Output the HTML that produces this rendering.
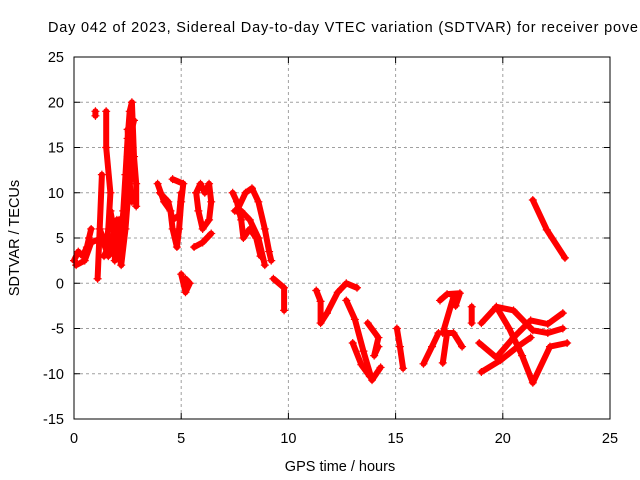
<!DOCTYPE html>
<html><head><meta charset="utf-8"><style>
html,body{margin:0;padding:0;background:#fff;}
svg{display:block;font-family:"Liberation Sans",sans-serif;}
</style></head><body>
<svg id="chart" width="640" height="480" viewBox="0 0 640 480">
<rect width="640" height="480" fill="#fff"/>
<text x="48" y="32" font-size="14.5" fill="#000" textLength="590" lengthAdjust="spacing">Day 042 of 2023, Sidereal Day-to-day VTEC variation (SDTVAR) for receiver pove</text>
<g id="grid"></g>
<g id="marks"></g>
<rect x="74" y="57" width="536" height="362" fill="none" stroke="#000" stroke-width="1"/>
<g id="ticks"></g>
<text x="340" y="471" font-size="14.5" text-anchor="middle">GPS time / hours</text>
<text x="0" y="0" font-size="14.5" text-anchor="middle" transform="translate(19,238) rotate(-90)">SDTVAR / TECUs</text>
</svg>
<script>
const xTicks=[0,5,10,15,20,25];
const yTicks=[-15,-10,-5,0,5,10,15,20,25];
// tracks: [hour, TECU]
const track1=[[0.0,2.5],[0.2,3.5],[0.4,3],[0.6,4],[0.7,5],[0.8,6]];
const track2=[[1.1,0.5],[1.2,6],[1.3,12],[1.2,6],[1.5,4],[1.6,6],[1.7,10],[1.5,15],[1.5,19]];
const track3=[[1.0,18.5],[1.0,19]];
const track4=[[1.4,3],[1.8,5],[2.0,7],[1.9,2.5],[2.2,4],[2.3,8],[2.4,12],[2.5,16],[2.6,19],[2.7,20],[2.8,14],[2.9,11],[2.9,8.5]];
const track5=[[1.7,8],[2.0,4],[2.2,2],[2.4,6],[2.6,12],[2.5,17]];
const track5b=[[0.1,2],[0.5,2.5],[0.8,4.5],[1.3,5],[1.6,3],[1.9,4],[2.1,7],[2.3,5],[2.5,9],[2.7,13],[2.6,16],[2.8,18]];
const track5c=[[1.6,5],[1.9,3.5],[2.1,5],[2.4,9],[2.5,14],[2.6,11],[2.7,9]];
const track6=[[3.9,11],[4.2,9],[4.5,8],[4.6,6],[4.8,4],[4.9,6],[5.0,9],[5.1,11],[4.6,11.5]];
const track6b=[[4.0,10],[4.4,9],[4.6,7],[4.9,7.5],[5.0,10]];
const track7=[[5.0,1],[5.2,-1],[5.4,0],[5.2,0.5]];
const track8=[[5.7,10],[5.9,11],[6.1,10],[6.3,11],[6.4,9],[6.3,7],[6.0,6],[5.8,8],[5.7,10]];
const track9=[[5.6,4],[6.0,4.5],[6.4,5.5]];
const track10=[[7.4,10],[7.6,9],[7.8,7],[7.9,5],[8.2,6],[8.5,5],[8.7,3]];
const track11=[[7.6,8],[8.0,10],[8.3,10.5],[8.6,9],[8.9,6],[9.1,3.5],[9.2,2.5]];
const track12=[[7.5,8],[7.8,8],[8.2,7],[8.6,5],[8.9,2]];
const track13=[[9.3,0.5],[9.8,-0.5],[9.8,-3]];
const track14=[[11.3,-0.8],[11.5,-2],[11.5,-4.4],[11.8,-3.3],[12.3,-1],[12.7,0],[13.2,-0.5]];
const track15=[[12.7,-1.9],[13.1,-4],[13.5,-7.5],[13.9,-10.7],[14.3,-9.3]];
const track16=[[13.0,-6.6],[13.4,-9],[13.8,-10.3]];
const track17=[[13.7,-4.4],[14.2,-6],[14.0,-8],[14.2,-7]];
const track18=[[15.06,-5],[15.2,-7],[15.35,-9.4]];
const track19=[[16.3,-8.9],[16.7,-7],[17.0,-5.5]];
const track20=[[17.2,-5.5],[17.7,-1.5]];
const track21=[[17.07,-1.9],[17.4,-1.2],[18.0,-1.1],[17.8,-2.5]];
const track22=[[17.2,-8.8],[17.4,-5.5],[17.7,-5.5],[18.1,-7]];
const track23=[[18.55,-2.6],[18.55,-4.4]];
const track24=[[19.0,-4.4],[19.7,-2.6],[20.5,-3],[21.4,-5.2],[22.1,-5.5],[22.8,-5]];
const track25=[[18.9,-6.6],[19.7,-8.2],[20.5,-6],[21.3,-4.1],[22.1,-4.5],[22.8,-3.3]];
const track26=[[19.0,-9.8],[19.9,-8.5],[20.7,-7],[21.3,-6]];
const track27=[[19.7,-2.6],[20.3,-5],[20.9,-8],[21.4,-11],[22.2,-7],[23.0,-6.6]];
const track28=[[21.4,9.2],[22.05,5.9],[22.9,2.8]];
const tracks=[track1,track2,track3,track4,track5,track5b,track5c,track6,track6b,track7,track8,track9,track10,track11,track12,track13,track14,track15,track16,track17,track18,track19,track20,track21,track22,track23,track24,track25,track26,track27,track28];

const X0=74,X1=610,Y0=419,Y1=57,xmin=0,xmax=25,ymin=-15,ymax=25;
function sx(v){return X0+(v-xmin)/(xmax-xmin)*(X1-X0);}
function sy(v){return Y0-(v-ymin)/(ymax-ymin)*(Y0-Y1);}
const NS="http://www.w3.org/2000/svg";
function mk(tag,attrs,parent){const e=document.createElementNS(NS,tag);for(const k in attrs)e.setAttribute(k,attrs[k]);parent.appendChild(e);return e;}
const grid=document.getElementById('grid'),ticks=document.getElementById('ticks'),marks=document.getElementById('marks');
xTicks.forEach(t=>{
  const x=sx(t);
  if(t>xmin&&t<xmax){const g=mk('line',{x1:x,y1:Y0,x2:x,y2:Y1,stroke:'#a0a0a0','stroke-dasharray':'3,3'},grid);
  
  }
  const a=mk('line',{x1:x,y1:Y0,x2:x,y2:Y0-6,stroke:'#000'},ticks);
  
  
  const b=mk('line',{x1:x,y1:Y1,x2:x,y2:Y1+6,stroke:'#000'},ticks);
  
  
  const l=mk('text',{x:x,y:Y0+24,'font-size':'14.5','text-anchor':'middle'},ticks);l.textContent=t;
  
  
});
yTicks.forEach(t=>{
  const y=sy(t);
  if(t>ymin&&t<ymax){const g=mk('line',{x1:X0,y1:y,x2:X1,y2:y,stroke:'#a0a0a0','stroke-dasharray':'3,3'},grid);
  
  }
  const a=mk('line',{x1:X0,y1:y,x2:X0+6,y2:y,stroke:'#000'},ticks);
  
  
  const b=mk('line',{x1:X1,y1:y,x2:X1-6,y2:y,stroke:'#000'},ticks);
  
  
  const l=mk('text',{x:X0-10,y:y+5,'font-size':'14.5','text-anchor':'end'},ticks);l.textContent=t;
  
  
});
tracks.forEach(tr=>{
  const pts=tr.map(p=>sx(p[0]).toFixed(1)+','+sy(p[1]).toFixed(1)).join(' ');
  const pl=mk('polyline',{points:pts,fill:'none',stroke:'#ff0000','stroke-width':'6','stroke-linejoin':'round','stroke-linecap':'round'},marks);
  
  
  tr.forEach(p=>{
    const x=sx(p[0]),y=sy(p[1]);
    const m=mk('path',{d:`M${x-4},${y}H${x+4}M${x},${y-4}V${y+4}`,stroke:'#ff0000','stroke-width':'1.2'},marks);
    
    
  });
});
</script>
</body></html>
